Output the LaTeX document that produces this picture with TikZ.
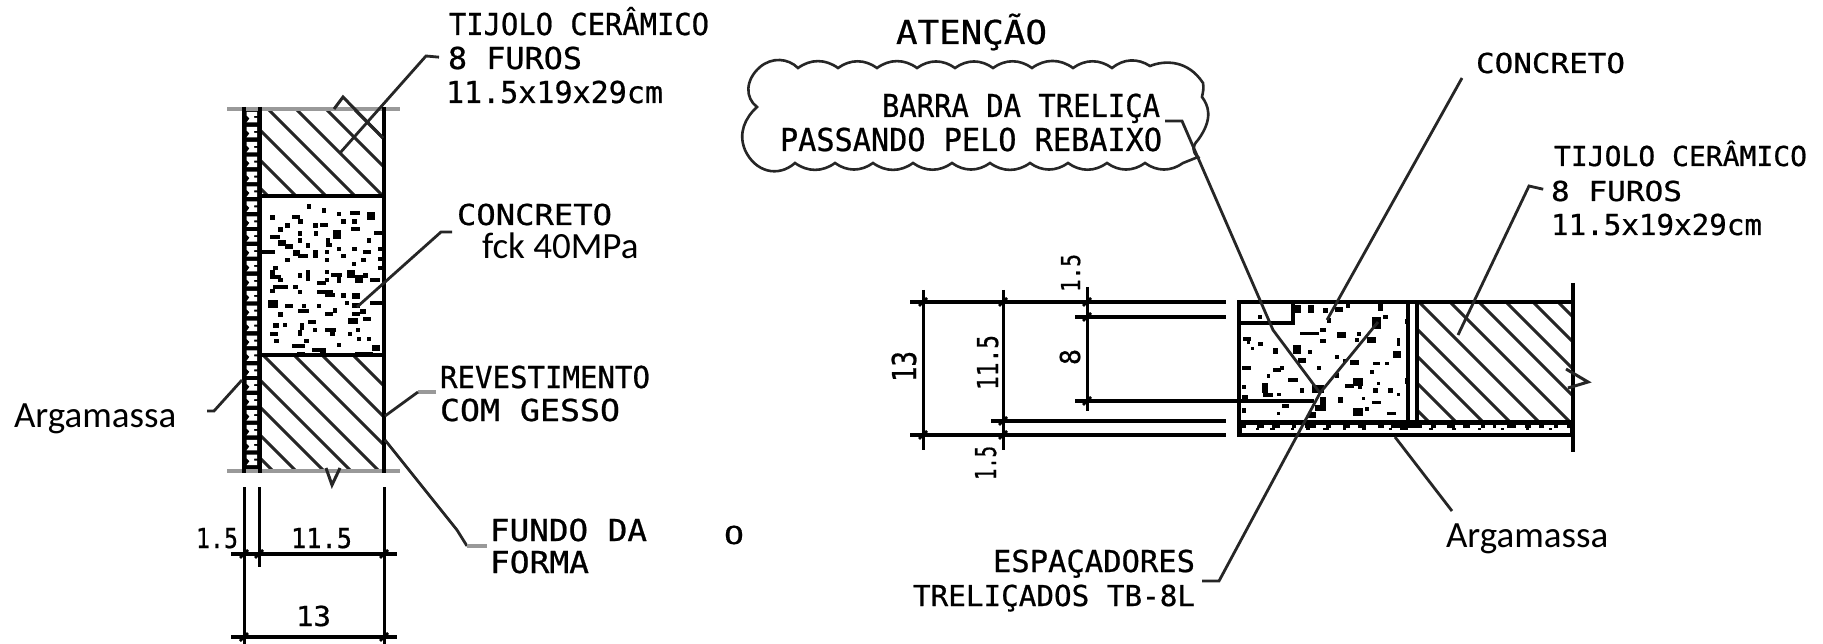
\documentclass[tikz,border=0pt]{standalone}
\usepackage{fontspec}
\usepackage{graphicx}
\newfontfamily\cadfont[FakeBold=0.7]{DejaVu Sans Mono}
\newfontfamily\calfont{Carlito}
\newcommand\cadtext[3]{\resizebox{#1pt}{#2pt}{\cadfont\vphantom{H}\smash{#3}}}
\newcommand\lab[6]{\node[labnode,anchor=south west] (#1) at (#2,#3) {\cadtext{#4}{#5}{#6}};}
\newcommand\labr[6]{\node[labnode,anchor=south west,rotate=90] (#1) at (#2,#3) {\cadtext{#4}{#5}{#6}};}
\tikzset{
  labnode/.style={inner sep=0pt,outer sep=0pt},
  calnode/.style={inner sep=0pt,outer sep=0pt,anchor=base west,font=\calfont\fontsize{37}{40}\selectfont,text=black},
  wall/.style={line width=4pt,draw=black},
  hatchline/.style={line width=3pt,draw=black!85},
  leader/.style={line width=2.8pt,draw=black!85,line join=miter},
  stub/.style={line width=4pt,draw=black!40},
  dimline/.style={line width=3pt,draw=black},
  dimthick/.style={line width=4pt,draw=black},
  dimtick/.style={line width=2.5pt,draw=black},
  cloud/.style={line width=2.6pt,draw=black!85,line join=miter},
  scallop/.style={bend left=36},
}
\begin{document}
\begin{tikzpicture}[x=1pt,y=-1pt]
\useasboundingbox (0,0) rectangle (1823,644);
\fill[white] (0,0) rectangle (1823,644);

% ---------- left section: concrete specks
\foreach \u/\v/\w/\h in {105/60/10/10,170/60/20/8,215/28/10/10,260/40/10/10,305/50/10/10,345/48/25/8,395/50/20/20,150/85/10/10,190/72/10/10,130/97/10/10,235/85/10/10,255/85/20/8,318/72/10/10,352/72/10/10,348/97/24/8,418/108/22/8,188/108/10/10,236/108/10/10,295/105/20/22,105/120/25/8,188/130/10/10,130/135/20/15,150/148/20/10,212/145/10/10,272/130/8/20,272/145/15/8,305/155/10/8,352/155/10/8,395/130/10/10,80/165/35/8,175/165/15/15,190/178/25/8,235/165/10/20,270/165/8/8,318/178/10/8,385/165/20/8,430/155/20/8,150/188/10/10,270/190/8/8,378/188/10/10,350/200/10/10,430/185/20/8,115/212/10/8,105/225/10/20,212/225/8/30,188/235/10/10,270/225/8/8,288/235/30/8,335/225/20/20,430/212/20/8,105/240/30/8,130/250/10/8,245/258/25/8,270/248/8/8,305/240/8/20,360/240/20/20,385/235/10/10,405/248/25/8,115/270/40/8,175/270/10/8,188/285/8/8,245/285/45/8,270/295/25/8,318/295/10/10,350/295/20/12,105/282/10/8,100/315/25/20,150/328/20/8,200/328/10/8,188/342/30/8,245/328/10/8,330/318/8/8,350/325/20/10,405/318/40/8,375/342/15/10,130/352/10/10,270/352/20/8,295/340/8/10,350/352/20/8,340/368/25/15,385/365/20/8,220/375/20/8,115/385/12/10,145/385/8/8,195/385/8/15,188/405/10/15,235/398/8/8,270/398/30/10,285/405/10/15,340/410/8/8,362/398/8/8,105/410/20/8,118/432/10/8,208/432/10/8,170/448/35/8,230/458/40/8,305/445/8/8,365/425/8/8,395/425/8/8,410/450/20/15,185/470/20/8,255/468/15/15,360/470/50/8}
  \fill[black] ({235+\u/3},{195+\v/3}) rectangle ++({\w/3+1.2},{\h/3+1.2});

% left hatching
\begin{scope}
\clip (260,108) rectangle (383,196);
\foreach \c in {72,100,130,159,187,217,245}
  \draw[hatchline] ({\c+90},90) -- ({\c+300},300);
\end{scope}
\begin{scope}
\clip (260,355) rectangle (383,471);
\foreach \c in {-2,-33,-61,-92,-120,-147,-175,-198}
  \draw[hatchline] ({\c+300},300) -- ({\c+500},500);
\end{scope}

% left mortar
\fill[black] (243,109) rectangle (260,471);
\foreach \i [evaluate=\i as \yy using 112+14.9*\i] in {0,...,23}
  \fill[white] (246.5,\yy) -- (257,\yy) -- (257,{\yy+4}) -- (254,{\yy+4}) -- (254,{\yy+6}) -- (257,{\yy+6}) -- (257,{\yy+10.5}) -- (246.5,{\yy+10.5}) -- (249.5,{\yy+6.5}) -- (246.5,{\yy+3.5}) -- cycle;

% left walls
\draw[stub] (227,109) -- (400,109);
\draw[stub] (227,471) -- (400,471);
\draw[wall] (244,107) -- (244,473);
\draw[wall] (260,107) -- (260,473);
\draw[wall] (384,107) -- (384,473);
\draw[wall] (260,196) -- (384,196);
\draw[wall] (260,355) -- (384,355);
% break marks
\draw[hatchline] (334,109) -- (343,97) -- (383,138);
\draw[hatchline] (326,468) -- (332,485) -- (340,468);

% left dimensions
\draw[dimline] (244,487) -- (244,644);
\draw[dimline] (259,487) -- (259,567);
\draw[dimline] (384,487) -- (384,644);
\draw[dimthick] (231,554) -- (397,554);
\draw[dimthick] (231,637) -- (397,637);
\foreach \px/\py in {244/554,259/554,384/554,244/637,384/637}
  \draw[dimtick] ({\px-4},{\py+4}) -- ({\px+4},{\py-4});

% left labels
\lab{t1}{449}{35}{260}{22}{TIJOLO CERÂMICO}
\lab{t2}{448}{69}{134}{22}{8 FUROS}
\lab{t3}{446}{103}{217}{22}{11.5x19x29cm}
\lab{c1}{457}{225}{155}{21}{CONCRETO}
\node[calnode] (fck) at (482,259) {fck 40MPa};
\lab{r1}{440}{388}{210}{22}{REVESTIMENTO}
\lab{r2}{440}{421}{180}{22}{COM GESSO}
\lab{f1}{490}{541}{157}{22}{FUNDO DA}
\lab{f2}{490}{573}{99}{22}{FORMA}
\lab{o1}{724}{544}{20}{18}{O}
\lab{d1}{196}{548}{42}{20}{1.5}
\lab{d2}{291}{548}{61}{20}{11.5}
\lab{d3}{296}{626}{35}{20}{13}
\node[calnode] (arg1) at (14,427) {Argamassa};

% left leaders
\coordinate (a1) at (426,56);
\coordinate (a2) at (340,153);
\draw[leader,shorten <=9pt] (t2.west) -- (a1) -- (a2);
\coordinate (b0) at (441,232);
\coordinate (b00) at (452,232);
\coordinate (b1) at (357,307);
\draw[leader] (b00) -- (b0) -- (b1);
\coordinate (c0) at (418,392);
\coordinate (c00) at (436,392);
\coordinate (c1p) at (385,416);
\draw[stub] (c00) -- (c0);
\draw[leader] (c0) -- (c1p);
\coordinate (e0) at (207,411);
\coordinate (e1) at (214,411);
\coordinate (e2) at (242,380);
\draw[leader] (e0) -- (e1) -- (e2);
\coordinate (g0) at (385,440);
\coordinate (g1) at (457,530);
\coordinate (g2) at (467,546);
\coordinate (g3) at (487,546);
\draw[leader] (g0) -- (g1) -- (g2);
\draw[stub] (g2) -- (g3);

% ---------- right section: concrete specks
\foreach \u/\v/\w/\h in {220/75/20/20,265/75/15/20,310/85/10/10,345/80/20/12,378/72/8/10,475/70/12/20,455/110/25/35,490/105/12/10,320/115/10/10,115/105/8/8,240/155/55/8,300/145/15/8,350/155/25/15,300/178/15/8,410/155/10/10,405/175/8/8,440/170/25/15,530/175/8/20,555/118/10/10,70/170/20/10,80/180/8/10,115/185/10/10,92/200/8/8,160/205/10/15,220/195/20/25,265/210/8/8,520/212/20/20,235/235/20/10,345/225/10/10,368/238/8/8,390/240/25/12,458/245/20/8,495/245/8/8,65/258/25/8,290/258/10/10,160/265/20/8,140/282/8/8,180/258/8/8,450/270/8/8,205/295/25/8,345/280/10/10,400/295/25/20,375/312/25/8,470/305/8/8,415/315/8/8,555/295/10/15,125/310/15/25,240/325/10/10,275/315/35/20,65/315/10/10,460/325/10/10,505/325/10/10,65/345/15/8,530/338/8/8,130/340/25/8,172/338/8/8,355/350/10/15,425/350/8/8,455/362/25/8,300/350/15/30,185/372/20/8,65/385/10/10,170/395/8/8,285/375/30/15,400/385/25/20,435/382/8/8,500/395/25/8,265/395/20/15}
  \fill[black] ({1220+\u/3},{280+\v/3}) rectangle ++({\w/3+1},{\h/3+1});

% right hatching
\begin{scope}
\clip (1417,302) rectangle (1573,422);
\foreach \c in {1007,1034,1061,1088,1117,1148,1177,1204,1231,1256}
  \draw[hatchline] ({\c+290},290) -- ({\c+440},440);
\end{scope}

% right mortar
\fill[black] (1239,421) rectangle (1573,436);
\fill[white] (1242,427.5) rectangle (1570,433.2);
\foreach \px/\pw in {1256/3,1270/5,1291/3,1306/4,1323/6,1343/3,1362/4,1389/3,1400/8,1429/4,1452/4,1478/3,1501/3,1526/3,1549/3}
  \fill[black] (\px,427) rectangle ({\px+\pw},430);
\foreach \px/\pw in {1246/11,1264/8,1280/12,1296/9,1316/10,1331/12,1350/8,1366/12,1384/7,1422/9,1436/11,1455/8,1470/11,1485/8,1496/11,1516/9,1531/8,1544/10,1558/9}
  \fill[white] (\px,424.5) rectangle ({\px+\pw},428);

% right outline
\draw[wall] (1239,302) rectangle (1573,435);
\draw[wall] (1239,323) -- (1293,323) -- (1293,302);
\draw[wall] (1408,302) -- (1408,422);
\draw[wall] (1417,302) -- (1417,422);
\draw[line width=3pt] (1239,421.5) -- (1573,421.5);
\draw[wall] (1573,283) -- (1573,452);
\draw[hatchline] (1566,369) -- (1588,382) -- (1568,388);

% right dimensions
\draw[dimthick] (910,302) -- (1226,302);
\draw[dimthick] (1075,317) -- (1226,317);
\draw[dimthick] (1075,401) -- (1314,401);
\draw[dimthick] (991,421) -- (1226,421);
\draw[dimthick] (910,435) -- (1226,435);
\draw[dimline] (923,290) -- (923,450);
\draw[dimline] (1003,290) -- (1003,450);
\draw[dimline] (1087,287) -- (1087,411);
\foreach \px/\py in {923/302,923/435,1003/302,1003/421,1003/435,1087/302,1087/317,1087/401}
  \draw[dimtick] ({\px-4},{\py+4}) -- ({\px+4},{\py-4});

% right labels
\lab{at}{896}{44}{151}{24}{ATENÇÃO}
\lab{b1t}{882}{117}{278}{23}{BARRA DA TRELIÇA}
\lab{b2t}{780}{151}{382}{23}{PASSANDO PELO REBAIXO}
\lab{cc}{1476}{73}{149}{20}{CONCRETO}
\lab{tt1}{1554}{166}{253}{20}{TIJOLO CERÂMICO}
\lab{tt2}{1551}{201}{131}{20}{8 FUROS}
\lab{tt3}{1551}{235}{211}{21}{11.5x19x29cm}
\lab{es1}{993}{572}{202}{22}{ESPAÇADORES}
\lab{es2}{913}{606}{282}{21}{TRELIÇADOS TB-8L}
\node[calnode] (arg2) at (1446,547) {Argamassa};
\labr{v13}{916}{382}{31}{24}{13}
\labr{v115}{998}{390}{55}{21}{11.5}
\labr{v8}{1080}{365}{16}{20}{8}
\labr{v15a}{1080}{292}{38}{19}{1.5}
\labr{v15b}{996}{480}{34}{21}{1.5}

% cloud
\draw[cloud] (757,107) .. controls (745,98) and (745,80) .. (760,67)
  .. controls (772,57) and (788,58) .. (798,68)
  to[scallop] (838,68) to[scallop] (877,68) to[scallop] (917,68)
  to[scallop] (955,68) to[scallop] (993,68) to[scallop] (1032,68)
  to[scallop] (1073,68) to[scallop] (1112,68) to[scallop] (1150,66)
  .. controls (1165,60) and (1188,60) .. (1203,83)
  .. controls (1204,88) and (1203,92) .. (1202,97)
  .. controls (1208,105) and (1214,118) .. (1198,140)
  .. controls (1192,146) and (1192,152) .. (1198,157)
  -- (1183,163)
  to[scallop] (1145,163) to[scallop] (1107,163) to[scallop] (1068,163)
  to[scallop] (1030,163) to[scallop] (990,163) to[scallop] (952,163)
  to[scallop] (913,163) to[scallop] (873,163) to[scallop] (835,163)
  to[scallop] (795,163)
  .. controls (778,178) and (755,172) .. (745,150)
  .. controls (738,133) and (745,118) .. cycle;

% right leaders
\coordinate (h0) at (1165,121);
\coordinate (h1) at (1182,121);
\coordinate (h2) at (1273,330);
\coordinate (h3) at (1320,393);
\draw[leader] (h0) -- (h1) -- (h2) -- (h3);
\coordinate (i0) at (1462,78);
\coordinate (i1) at (1327,320);
\draw[leader] (i0) -- (i1);
\coordinate (j0) at (1529,186);
\coordinate (j1) at (1458,335);
\draw[leader,shorten <=8pt] (tt2.west) -- (j0) -- (j1);
\coordinate (k0) at (1202,581);
\coordinate (k1) at (1219,581);
\coordinate (k2) at (1320,393);
\coordinate (k3) at (1378,322);
\draw[leader] (k0) -- (k1) -- (k2) -- (k3);
\coordinate (m0) at (1395,437);
\coordinate (m1) at (1452,511);
\draw[leader] (m0) -- (m1);
\end{tikzpicture}
\end{document}
